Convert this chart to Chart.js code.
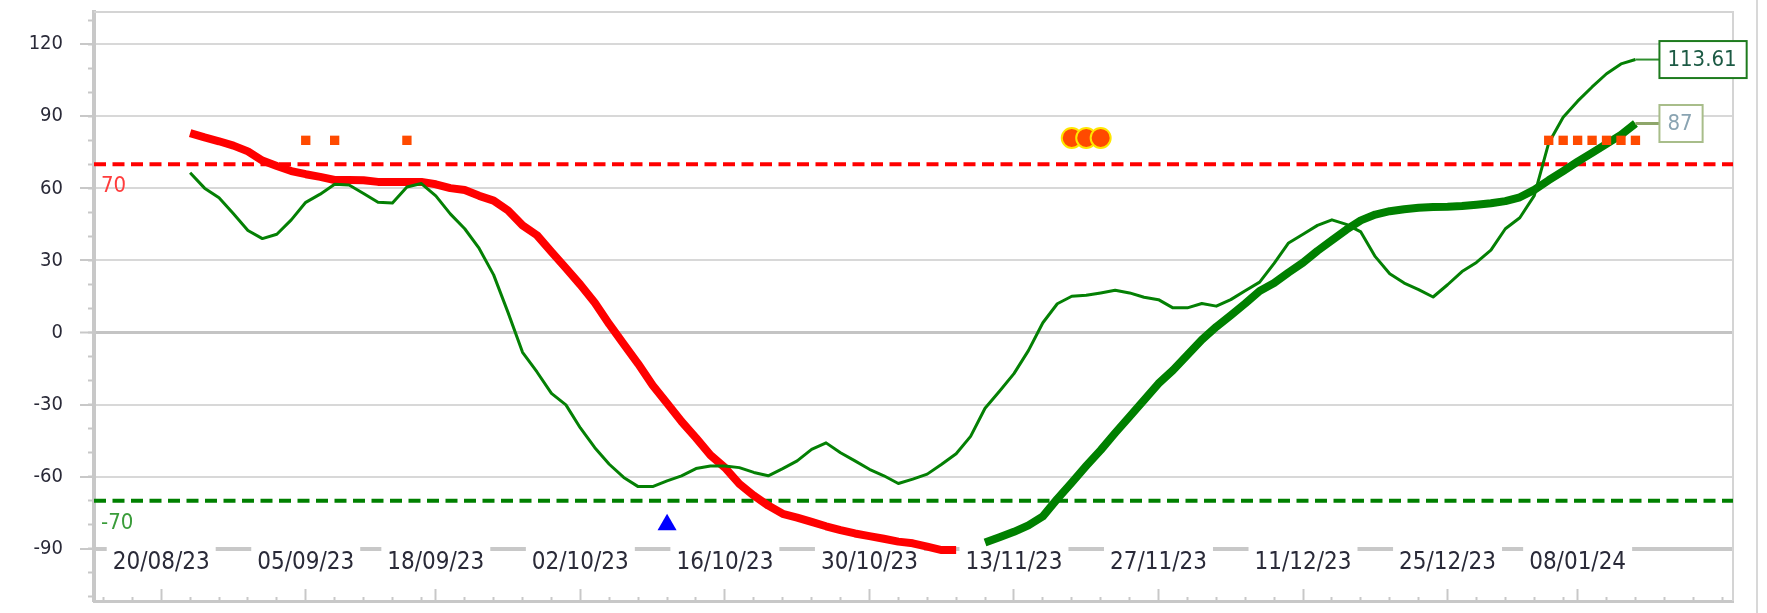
<!DOCTYPE html>
<html lang="en">
<head>
<meta charset="UTF-8">
<title>RSI</title>
<script src="https://cdn.jsdelivr.net/npm/chart.js@4.4.0/dist/chart.umd.min.js"></script>
<style>
  html, body { margin: 0; padding: 0; background: #fff; }
  canvas { display: block; }
</style>
</head>
<body>
<canvas id="myChart" width="1767" height="613"></canvas>
<script>
// x is the trading-day index, 0 = 20/08/23
const dateLabels = ['20/08/23', '05/09/23', '18/09/23', '02/10/23', '16/10/23', '30/10/23',
                    '13/11/23', '27/11/23', '11/12/23', '25/12/23', '08/01/24'];
const dateIdx = [0, 10, 19, 29, 39, 49, 59, 69, 79, 89, 98];
const yTicks = [-90, -60, -30, 0, 30, 60, 90, 120];
const upperLevel = 70;
const lowerLevel = -70;

const redStart = 2;
const redValues = [83.0, 81.2, 79.6, 77.8, 75.4, 71.6, 69.3, 67.2, 65.9, 64.8,
  63.5, 63.5, 63.4, 62.7, 62.7, 62.7, 62.7, 61.7, 60.1, 59.3,
  56.9, 54.9, 50.8, 44.6, 40.5, 33.6, 26.8, 19.9, 12.4, 3.5,
  -4.8, -13.0, -21.9, -29.4, -37.0, -43.8, -51.0, -56.2, -63.0, -67.8,
  -72.0, -75.4, -77.0, -78.8, -80.6, -82.2, -83.6, -84.7, -85.8, -87.0,
  -87.7, -89.1, -90.5, -90.5];

const fastStart = 2;
const fastValues = [66.5, 60.1, 56.1, 49.4, 42.5, 39.1, 40.9, 46.9, 54.2, 57.6,
  61.7, 61.4, 57.9, 54.2, 53.9, 60.6, 62.0, 56.9, 49.4, 43.2,
  35.0, 24.0, 8.3, -8.2, -16.4, -25.3, -30.1, -39.7, -47.9, -54.8,
  -60.3, -64.1, -64.1, -61.7, -59.6, -56.6, -55.5, -55.5, -56.2, -58.2,
  -59.6, -56.6, -53.4, -48.6, -45.9, -50.0, -53.4, -56.9, -59.6, -62.8,
  -61.0, -58.9, -54.8, -50.4, -43.2, -31.5, -24.4, -17.1, -7.5, 4.1,
  12.0, 15.1, 15.5, 16.5, 17.6, 16.5, 14.7, 13.7, 10.3, 10.3,
  12.1, 11.0, 13.7, 17.4, 21.0, 28.8, 37.3, 40.9, 44.6, 46.9,
  45.0, 41.9, 31.6, 24.5, 20.6, 17.9, 14.8, 19.9, 25.4, 29.2,
  34.3, 43.2, 47.8, 57.0, 78.9, 89.6, 96.3, 102.2, 107.7, 111.8,
  113.61];

const slowStart = 57;
const slowValues = [-87.4, -85.2, -82.9, -80.2, -76.5, -69.2, -62.4, -55.5, -48.9, -41.8,
  -35.0, -28.1, -21.2, -15.7, -9.3, -3.0, 2.4, 7.2, 12.1, 17.3,
  20.6, 25.0, 29.1, 34.0, 38.4, 42.8, 46.7, 49.1, 50.5, 51.3,
  51.9, 52.3, 52.4, 52.7, 53.2, 53.8, 54.7, 56.3, 59.4, 63.4,
  67.2, 71.1, 74.8, 78.5, 82.3, 87];

const squareIdx = [10, 12, 17, 96, 97, 98, 99, 100, 101, 102];
const squareValue = 80;
const circleIdx = [63, 64, 65];
const circleValue = 81;
const triangleIdx = [35];
const triangleValue = -80;

const xMin = -4.65, xMax = 108.75;
const yMin = -111.7, yMax = 133.4;

const FONT = '"DejaVu Sans Condensed", "DejaVu Sans", sans-serif';
const AXIS_GREY = '#c8c8c8';

// minor ticks on the bottom edge, every 2 sessions between the labelled dates
const minorIdx = [];
for (let k = -4; k < 0; k += 2) minorIdx.push(k);
dateIdx.forEach((m, i) => {
  const next = i + 1 < dateIdx.length ? dateIdx[i + 1] : xMax;
  for (let k = m + 2; k < next - 0.5; k += 2) minorIdx.push(k);
});
const minorY = [];
for (let v = -110; v <= 130; v += 10) minorY.push(v);

const toPoints = (start, vals) => vals.map((v, i) => ({x: start + i, y: v}));
const atLevel = (idx, v) => idx.map(i => ({x: i, y: v}));
// keep the plot edges where they are: no extra room for overhanging labels
const noPad = s => { s.paddingTop = 0; s.paddingBottom = 0; s.paddingLeft = 0; s.paddingRight = 0; };

const levelText = {
  id: 'levelText',
  afterDatasetsDraw(chart) {
    const {ctx, chartArea, scales} = chart;
    ctx.save();
    ctx.font = '22px ' + FONT;
    ctx.textBaseline = 'alphabetic';
    ctx.fillStyle = '#ff3c3c';
    ctx.fillText(String(upperLevel), chartArea.left + 7, scales.y.getPixelForValue(upperLevel) + 28);
    ctx.fillStyle = '#3a9c3a';
    ctx.fillText(String(lowerLevel), chartArea.left + 7, scales.y.getPixelForValue(lowerLevel) + 28);
    ctx.restore();
  }
};

const frame = {
  id: 'frame',
  beforeDatasetsDraw(chart) {
    const {ctx, chartArea} = chart;
    ctx.save();
    ctx.strokeStyle = '#d4d4d4';
    ctx.lineWidth = 2;
    ctx.beginPath();
    ctx.moveTo(chartArea.left, chartArea.top);
    ctx.lineTo(chartArea.right, chartArea.top);
    ctx.lineTo(chartArea.right, chartArea.bottom);
    ctx.stroke();
    ctx.strokeStyle = '#d8d8d8';
    ctx.beginPath();
    ctx.moveTo(chartArea.right + 24, 0);
    ctx.lineTo(chartArea.right + 24, chart.height);
    ctx.stroke();
    ctx.restore();
  }
};

const endLabels = {
  id: 'endLabels',
  afterDatasetsDraw(chart) {
    const ctx = chart.ctx;
    const find = (name) => chart.getDatasetMeta(chart.data.datasets.findIndex(d => d.label === name));
    const specs = [
      {meta: find('fast'), text: fastValues[fastValues.length - 1].toFixed(2),
       border: '#1e7b1e', color: '#1c5a44', line: '#2f8f2f', lw: 2},
      {meta: find('slow'), text: String(slowValues[slowValues.length - 1]),
       border: '#a8bd8a', color: '#8aa4b2', line: '#8ea66a', lw: 3}
    ];
    ctx.save();
    ctx.font = '22px ' + FONT;
    specs.forEach(s => {
      const pt = s.meta.data[s.meta.data.length - 1];
      const w = ctx.measureText(s.text).width + 18;
      const h = 37;
      const left = pt.x + 24;
      ctx.strokeStyle = s.line;
      ctx.lineWidth = s.lw;
      ctx.beginPath();
      ctx.moveTo(pt.x, pt.y);
      ctx.lineTo(left, pt.y);
      ctx.stroke();
      ctx.fillStyle = '#ffffff';
      ctx.fillRect(left, pt.y - h / 2, w, h);
      ctx.strokeStyle = s.border;
      ctx.lineWidth = 2;
      ctx.strokeRect(left, pt.y - h / 2, w, h);
      ctx.fillStyle = s.color;
      ctx.textBaseline = 'middle';
      ctx.fillText(s.text, left + 8, pt.y + 1);
    });
    ctx.restore();
  }
};

const ctx = document.getElementById('myChart').getContext('2d');
const myChart = new Chart(ctx, {
  type: 'line',
  data: {
    datasets: [
      {label: 'upper', data: [{x: xMin, y: upperLevel}, {x: xMax, y: upperLevel}],
       borderColor: '#ff0000', borderWidth: 4, borderDash: [12, 6.5], pointRadius: 0, order: 10},
      {label: 'lower', data: [{x: xMin, y: lowerLevel}, {x: xMax, y: lowerLevel}],
       borderColor: '#008000', borderWidth: 4, borderDash: [12, 6.5], pointRadius: 0, order: 10},
      {label: 'red', data: toPoints(redStart, redValues),
       borderColor: '#ff0000', borderWidth: 8, pointRadius: 0, order: 6},
      {label: 'slow', data: toPoints(slowStart, slowValues),
       borderColor: '#008000', borderWidth: 8, pointRadius: 0, order: 5},
      {label: 'fast', data: toPoints(fastStart, fastValues),
       borderColor: '#048004', borderWidth: 3, pointRadius: 0, order: 4},
      {label: 'squares', data: atLevel(squareIdx, squareValue), showLine: false,
       pointStyle: 'rect', pointRadius: 6.6, pointBorderWidth: 0,
       pointBackgroundColor: '#ff4a00', order: 1},
      {label: 'circles', data: atLevel(circleIdx, circleValue), showLine: false,
       pointStyle: 'circle', pointRadius: 10, pointBorderWidth: 2,
       pointBackgroundColor: '#ff4a00', pointBorderColor: '#ffe600', order: 1},
      {label: 'triangle', data: atLevel(triangleIdx, triangleValue), showLine: false,
       pointStyle: 'triangle', pointRadius: 11, pointBorderWidth: 0,
       pointBackgroundColor: '#0000ff', order: 1}
    ]
  },
  options: {
    responsive: false,
    animation: false,
    devicePixelRatio: 1,
    layout: {padding: {top: 9, right: 34, bottom: 8, left: 0}},
    elements: {line: {tension: 0, borderJoinStyle: 'round', borderCapStyle: 'butt'}},
    plugins: {legend: {display: false}, tooltip: {enabled: false}},
    scales: {
      y: {
        type: 'linear', position: 'left', min: yMin, max: yMax,
        afterBuildTicks: s => { s.ticks = yTicks.map(v => ({value: v})); },
        afterFit: s => { s.width = 94; noPad(s); },
        ticks: {font: {family: FONT, size: 20}, color: '#2a2a38', padding: 17,
                callback: v => String(v)},
        grid: {
          color: c => (c.tick && c.tick.value === 0) ? '#c4c4c4' : '#d8d8d8',
          lineWidth: c => (c.tick && c.tick.value === 0) ? 3 : 2,
          tickLength: 14, tickColor: AXIS_GREY, tickWidth: 2
        },
        border: {color: AXIS_GREY, width: 4}
      },
      yMinor: {
        axis: 'y', type: 'linear', position: {x: xMin}, min: yMin, max: yMax,
        afterBuildTicks: s => { s.ticks = minorY.map(v => ({value: v})); },
        afterFit: noPad,
        ticks: {display: false},
        grid: {drawOnChartArea: false, tickLength: 6, tickColor: AXIS_GREY, tickWidth: 2},
        border: {display: false}
      },
      x: {
        type: 'linear', position: {y: -90}, min: xMin, max: xMax,
        afterBuildTicks: s => { s.ticks = dateIdx.map(v => ({value: v})); },
        afterFit: noPad,
        ticks: {
          autoSkip: false, maxRotation: 0, minRotation: 0,
          callback: (v, i) => dateLabels[i],
          font: {family: FONT, size: 24, lineHeight: 1},
          color: '#2a2a38', padding: 2,
          showLabelBackdrop: true, backdropColor: '#ffffff',
          backdropPadding: {top: 7, bottom: 2, left: 6, right: 6}
        },
        grid: {drawOnChartArea: false, drawTicks: false},
        border: {color: AXIS_GREY, width: 4}
      },
      xMinor: {
        axis: 'x', type: 'linear', position: {y: yMin}, min: xMin, max: xMax,
        afterBuildTicks: s => { s.ticks = minorIdx.map(v => ({value: v})); },
        afterFit: noPad,
        ticks: {display: false},
        grid: {drawOnChartArea: false, tickLength: -6, tickColor: AXIS_GREY, tickWidth: 2},
        border: {color: AXIS_GREY, width: 3}
      },
      xMajor: {
        axis: 'x', type: 'linear', position: {y: yMin}, min: xMin, max: xMax,
        afterBuildTicks: s => { s.ticks = dateIdx.map(v => ({value: v})); },
        afterFit: noPad,
        ticks: {display: false},
        grid: {drawOnChartArea: false, tickLength: -12, tickColor: AXIS_GREY, tickWidth: 2},
        border: {display: false}
      }
    }
  },
  plugins: [frame, levelText, endLabels]
});
</script>
</body>
</html>
